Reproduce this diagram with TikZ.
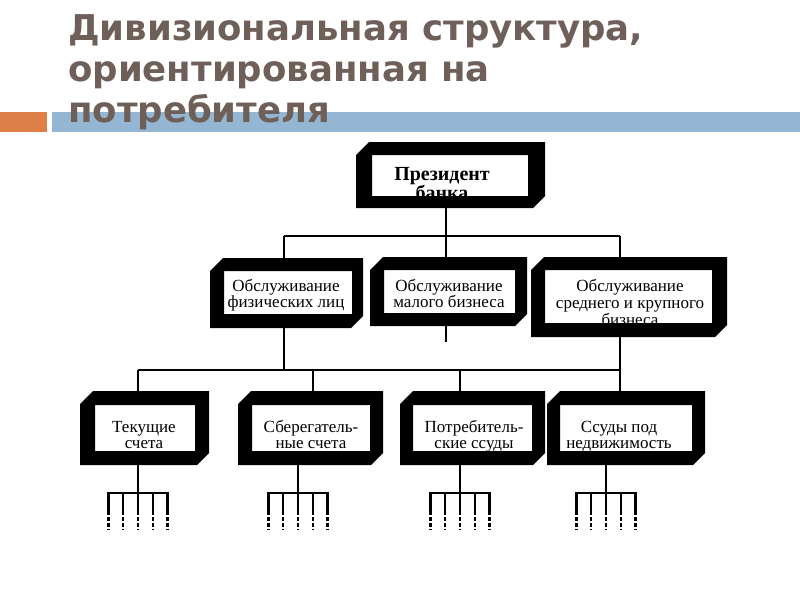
\documentclass[tikz,border=0pt]{standalone}
\usepackage{fontspec}
\setmainfont{Liberation Serif}
\newfontfamily\titlefont{DejaVu Sans}
\usetikzlibrary{calc,fit}
\definecolor{titlec}{RGB}{110,95,88}
\definecolor{orangebar}{RGB}{221,128,71}
\definecolor{bluebar}{RGB}{148,182,210}
\newcommand\tightlines{\lineskiplimit=-50pt\relax}
\tikzset{
 conn/.style={line width=2pt},
 forkline/.style={line width=2.4pt},
 forkdash/.style={line width=2.4pt, dash pattern=on 3.5pt off 2.5pt},
 ttl/.style={anchor=base west, inner sep=0pt, text=titlec, font={\titlefont\bfseries\fontsize{35.5}{40}\selectfont}},
 lbl/.style={anchor=base, inner sep=0pt, align=center, font={\tightlines\fontsize{17}{16}\selectfont}},
 lblc/.style={anchor=base, inner sep=0pt, align=center, font={\tightlines\fontsize{17}{17}\selectfont}},
 lbl3/.style={anchor=base, inner sep=0pt, align=center, font={\tightlines\fontsize{17}{16}\selectfont}},
 boss/.style={anchor=base, inner sep=0pt, align=center, font={\tightlines\bfseries\fontsize{20}{19}\selectfont}},
}
\newcommand\bevbox[8]{%
  \coordinate (#1-otl) at (#2);
  \coordinate (#1-obr) at (#3);
  \node[fit=(#1-otl)(#1-obr), inner sep=0pt, outer sep=0pt] (#1) {};
  \fill[white] (#4) rectangle (#5);
  \node[#6] (#1-t) at (#7) {#8};
  \fill[black, even odd rule] ($(#1-otl)+(0,13)$) -- ($(#1-otl)+(13,0)$) -- (#1-otl -| #1-obr) -- ($(#1-obr)+(0,-12)$) -- ($(#1-obr)+(-12,0)$) -- (#1-otl |- #1-obr) -- cycle (#4) rectangle (#5);
}
\newcommand\forkat[2]{%
  \draw[conn] (#2 |- #1.south) -- (#2);
  \draw[forkline] ($(#2)+(-30.7,0)$) -- ($(#2)+(30.7,0)$);
  \foreach \d in {-29.5,-14.75,0,14.75,29.5}{
    \draw[forkline] ($(#2)+(\d,0)$) -- ++(0,18);
    \draw[forkdash] ($(#2)+(\d,18)$) -- ++(0,19);
  }
}
\begin{document}
\begin{tikzpicture}[x=1pt,y=-1pt]
\fill[white] (0,0) rectangle (800,600);
\useasboundingbox (0,0) rectangle (800,600);
% title band
\fill[orangebar] (0,112) rectangle (47,132);
\fill[bluebar] (52,112) rectangle (800,132);
\node[ttl] (t1) at (68,40) {Дивизиональная структура,};
\node[ttl] (t2) at (68,81) {ориентированная на};
\node[ttl] (t3) at (68,122) {потребителя};
% boxes
\bevbox{P}{356,142}{545,208}{372,155}{528,196}{boss}{442,199}{Президент\\банка}
\bevbox{A}{210,258}{363,328}{224,271}{352,314}{lbl}{286,307}{Обслуживание\\физических лиц}
\bevbox{B}{370,257}{527,326}{384,270}{515,313}{lbl}{449,307}{Обслуживание\\малого бизнеса}
\bevbox{C}{531,257}{727,337}{545,270}{712,323}{lblc}{630,325}{Обслуживание\\среднего и крупного\\бизнеса}
\bevbox{D}{80,391}{209,465}{95,405}{195,451}{lbl3}{144,448}{Текущие\\счета}
\bevbox{E}{238,391}{383,465}{252,405}{370,451}{lbl3}{311,448}{Сберегатель-\\ные счета}
\bevbox{F}{400,391}{545,465}{413,405}{532,451}{lbl3}{474,448}{Потребитель-\\ские ссуды}
\bevbox{G}{547,391}{705,465}{560,405}{692,451}{lbl3}{619,448}{Ссуды под\\недвижимость}
% level 1 connectors
\coordinate (j0) at (446,236);
\coordinate (jA) at (284,236);
\coordinate (jC) at (620,236);
\draw[conn] (P.south -| j0) -- (j0);
\draw[conn] (jA) -- (jC);
\draw[conn] (jA) -- (jA |- A.north);
\draw[conn] (j0) -- (j0 |- B.north);
\draw[conn] (jC) -- (jC |- C.north);
% level 2 connectors
\coordinate (kA) at (284,370);
\coordinate (kD) at (138,370);
\coordinate (kE) at (313,370);
\coordinate (kF) at (460,370);
\coordinate (kG) at (620,370);
\coordinate (bB) at (446,342);
\draw[conn] (kA |- A.south) -- (kA);
\draw[conn] (bB |- B.south) -- (bB);
\draw[conn] (kG |- C.south) -- (kG);
\draw[conn] (kD) -- (kG);
\draw[conn] (kD) -- (kD |- D.north);
\draw[conn] (kE) -- (kE |- E.north);
\draw[conn] (kF) -- (kF |- F.north);
\draw[conn] (kG) -- (kG |- G.north);
% forks
\coordinate (fD) at (138,493);
\coordinate (fE) at (298,493);
\coordinate (fF) at (460,493);
\coordinate (fG) at (606,493);
\forkat{D}{fD}
\forkat{E}{fE}
\forkat{F}{fF}
\forkat{G}{fG}
\end{tikzpicture}
\end{document}
